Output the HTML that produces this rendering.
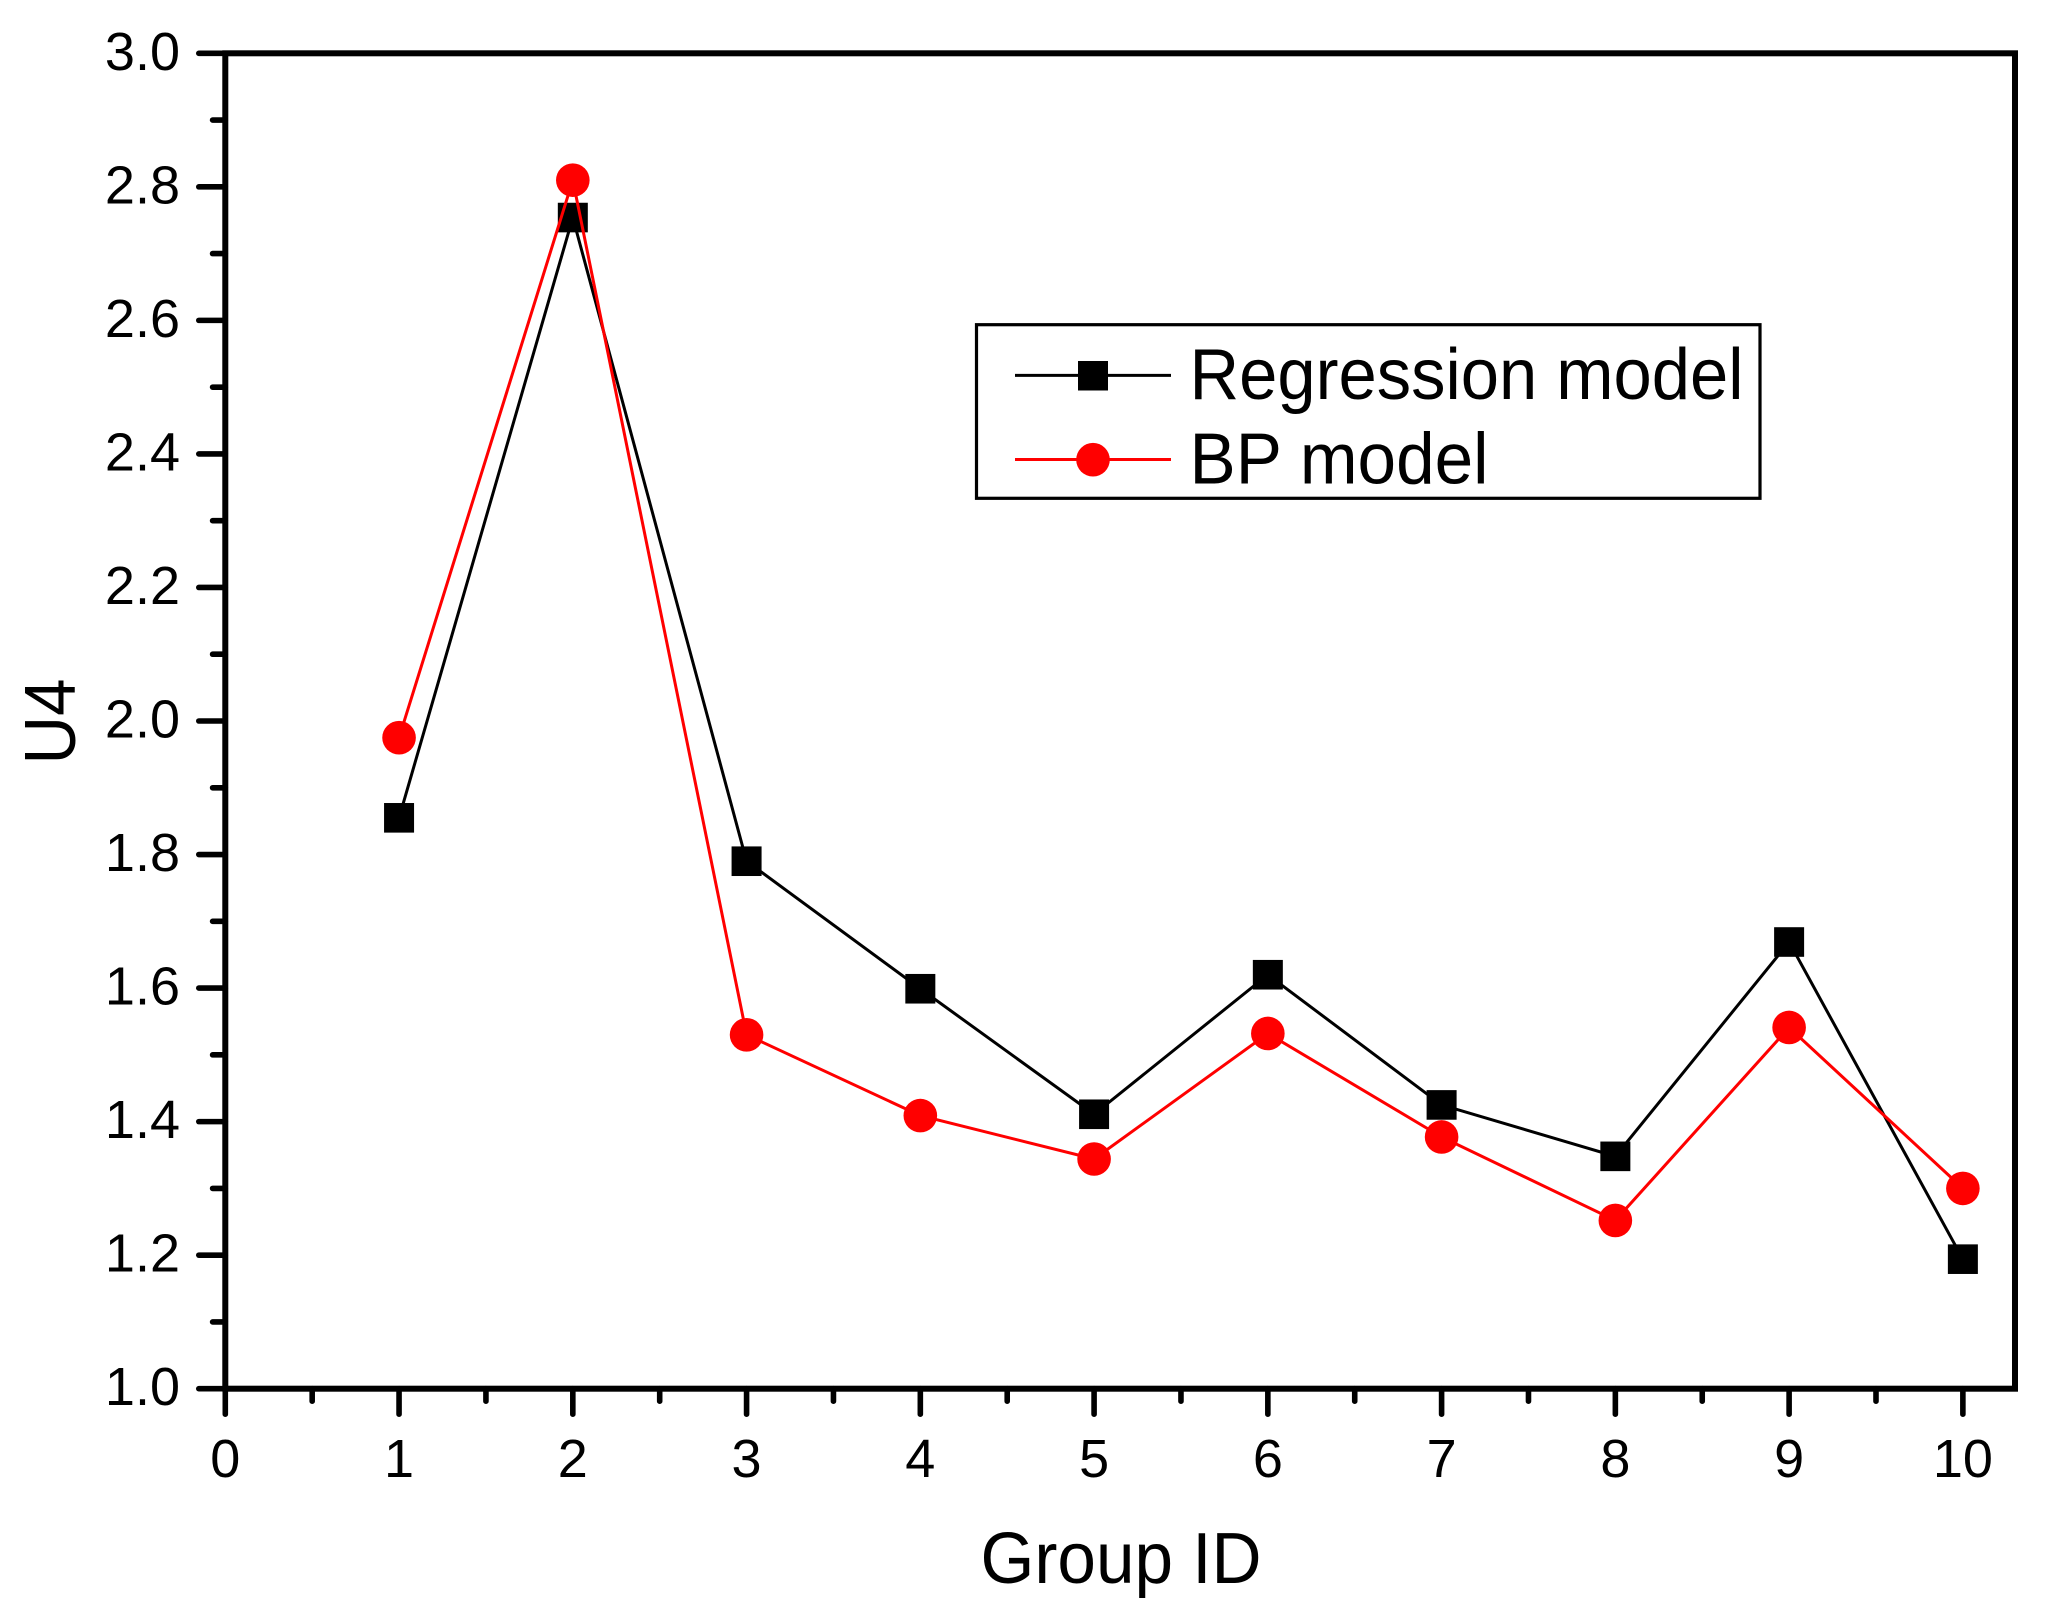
<!DOCTYPE html>
<html lang="en">
<head>
<meta charset="utf-8">
<title>U4 by Group ID</title>
<style>
html,body{margin:0;padding:0;background:#fff;}
svg{display:block;}
text{font-family:"Liberation Sans",Arial,sans-serif;fill:#000;}
</style>
</head>
<body>
<svg id="chart" xmlns="http://www.w3.org/2000/svg" width="2046" height="1617" viewBox="0 0 2046 1617">
  <rect x="0" y="0" width="2046" height="1617" fill="#ffffff"/>
  <g id="ticks"></g>
  <g id="tick-labels"></g>
  <g id="frame"></g>
  <g id="series"></g>
  <text x="980.5" y="1583" font-size="72" textLength="281" lengthAdjust="spacingAndGlyphs">Group ID</text>
  <text transform="translate(75 764.5) rotate(-90)" x="0" y="0" font-size="72" textLength="86" lengthAdjust="spacingAndGlyphs">U4</text>
  <g>
    <rect x="976.5" y="324.7" width="783.5" height="173.6" fill="#ffffff" stroke="#000" stroke-width="3.2"/>
    <g>
      <line x1="1015" y1="375.4" x2="1171" y2="375.4" stroke="#000" stroke-width="3"/>
      <rect x="1078" y="361" width="30" height="29.5" fill="#000"/>
      <text x="1189.5" y="399" font-size="72" textLength="554" lengthAdjust="spacingAndGlyphs">Regression model</text>
    </g>
    <g>
      <line x1="1015" y1="459.5" x2="1171" y2="459.5" stroke="#ff0000" stroke-width="3"/>
      <circle cx="1093" cy="459.7" r="16.8" fill="#ff0000"/>
      <text x="1189.5" y="483.5" font-size="72" textLength="299" lengthAdjust="spacingAndGlyphs">BP model</text>
    </g>
  </g>
</svg>
<script>
const groupIds = [1, 2, 3, 4, 5, 6, 7, 8, 9, 10];
const regressionValues = [1.855, 2.754, 1.79, 1.599, 1.411, 1.62, 1.425, 1.348, 1.669, 1.194];
const bpValues = [1.975, 2.81, 1.53, 1.409, 1.344, 1.532, 1.377, 1.252, 1.541, 1.3];
const xTickLabels = ['0', '1', '2', '3', '4', '5', '6', '7', '8', '9', '10'];
const yTickLabels = ['1.0', '1.2', '1.4', '1.6', '1.8', '2.0', '2.2', '2.4', '2.6', '2.8', '3.0'];
const xMinorTicks = [0.5, 1.5, 2.5, 3.5, 4.5, 5.5, 6.5, 7.5, 8.5, 9.5];
const yMinorTicks = [1.1, 1.3, 1.5, 1.7, 1.9, 2.1, 2.3, 2.5, 2.7, 2.9];
const xDomain = [0, 10.3];
const yDomain = [1, 3];

const plotLeft = 225.3, plotRight = 2015, plotBottom = 1388.7, plotTop = 53.3;
function xScale(v) { return plotLeft + (v - xDomain[0]) / (xDomain[1] - xDomain[0]) * (plotRight - plotLeft); }
function yScale(v) { return plotBottom - (v - yDomain[0]) / (yDomain[1] - yDomain[0]) * (plotBottom - plotTop); }

const NS = 'http://www.w3.org/2000/svg';
function make(tag, attrs, parent) {
  const el = document.createElementNS(NS, tag);
  for (const k in attrs) el.setAttribute(k, attrs[k]);
  parent.appendChild(el);
  return el;
}
const ticksG = document.getElementById('ticks');
const labelsG = document.getElementById('tick-labels');
const frameG = document.getElementById('frame');
const seriesG = document.getElementById('series');
const tickStyle = { stroke: '#000', 'stroke-width': 5.6, 'stroke-linecap': 'round' };

xTickLabels.forEach(function (label) {
  const x = xScale(Number(label));
  const tick = make('line', Object.assign({ x1: x, y1: plotBottom, x2: x, y2: 1414.2 }, tickStyle), ticksG);
  
  
  const text = make('text', { x: x, y: 1477, 'font-size': 54, 'text-anchor': 'middle' }, labelsG);
  text.textContent = label;
  
  
});
xMinorTicks.forEach(function (v) {
  const x = xScale(v);
  const tick = make('line', Object.assign({ x1: x, y1: plotBottom, x2: x, y2: 1401.2 }, tickStyle), ticksG);
  
  
});
yTickLabels.forEach(function (label) {
  const y = yScale(Number(label));
  const tick = make('line', Object.assign({ x1: plotLeft, y1: y, x2: 198.8, y2: y }, tickStyle), ticksG);
  
  
  const text = make('text', { x: 180, y: y + 16.5, 'font-size': 54, 'text-anchor': 'end' }, labelsG);
  text.textContent = label;
  
  
});
yMinorTicks.forEach(function (v) {
  const y = yScale(v);
  const tick = make('line', Object.assign({ x1: plotLeft, y1: y, x2: 212.6, y2: y }, tickStyle), ticksG);
  
  
});

const frame = make('rect', {
  x: plotLeft, y: plotTop, width: plotRight - plotLeft, height: plotBottom - plotTop,
  fill: 'none', stroke: '#000', 'stroke-width': 6
}, frameG);



function pointsFor(values) {
  return values.map(function (v, i) { return xScale(groupIds[i]) + ',' + yScale(v); }).join(' ');
}

const regressionLine = make('polyline', { points: pointsFor(regressionValues), fill: 'none', stroke: '#000', 'stroke-width': 3 }, seriesG);


regressionValues.forEach(function (v, i) {
  const m = make('rect', { x: xScale(groupIds[i]) - 15, y: yScale(v) - 14.8, width: 30, height: 29.6, fill: '#000' }, seriesG);
  
  
});

const bpLine = make('polyline', { points: pointsFor(bpValues), fill: 'none', stroke: '#ff0000', 'stroke-width': 3 }, seriesG);


bpValues.forEach(function (v, i) {
  const m = make('circle', { cx: xScale(groupIds[i]), cy: yScale(v), r: 16.8, fill: '#ff0000' }, seriesG);
  
  
});
</script>
</body>
</html>
